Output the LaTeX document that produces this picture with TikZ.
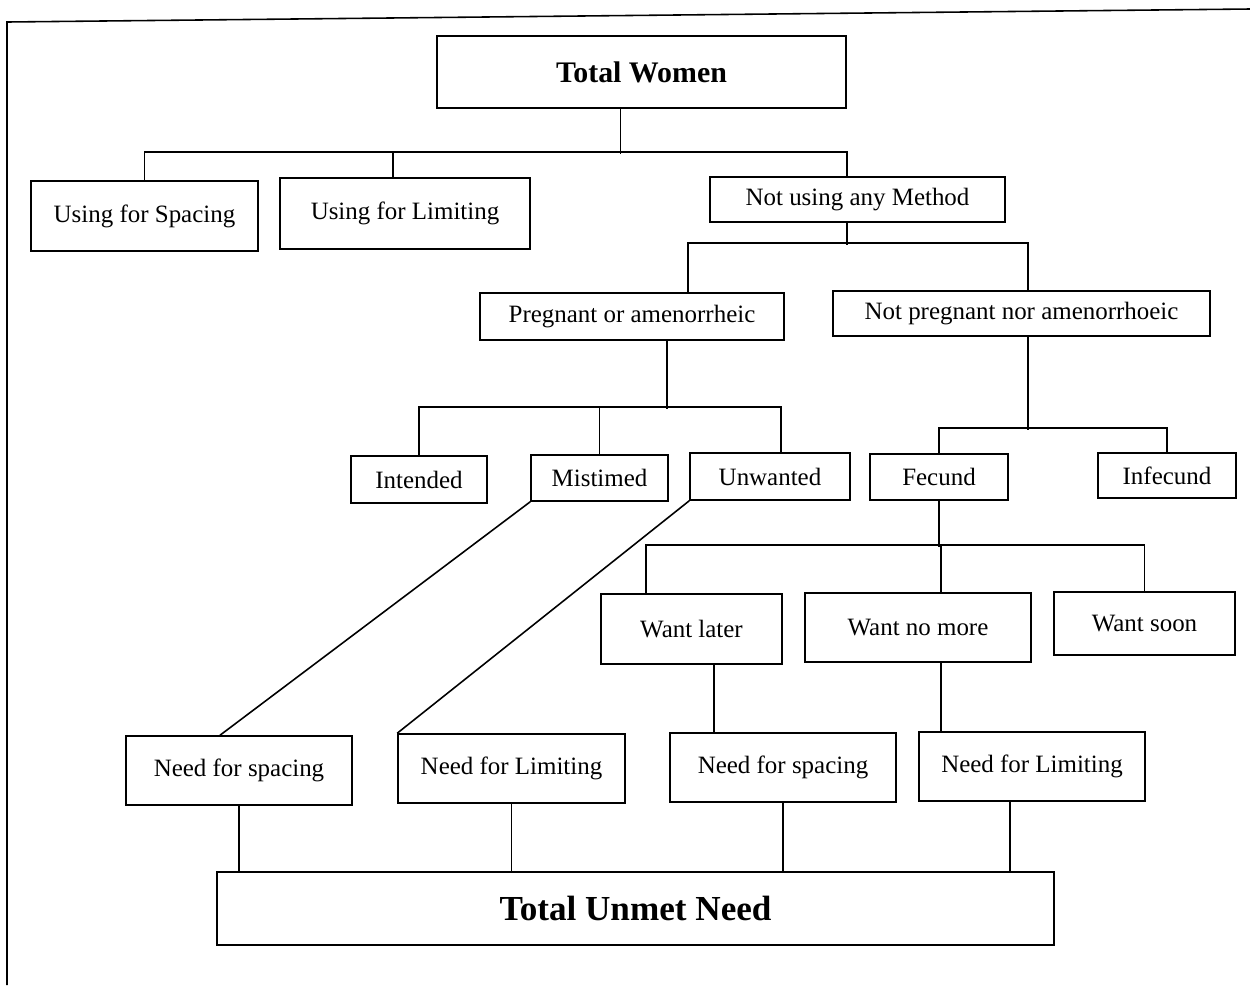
\documentclass[tikz,border=0pt]{standalone}
\usepackage{fontspec}
\setmainfont{Liberation Serif}
\usetikzlibrary{positioning,calc}
\tikzstyle{box} = [draw, rectangle, inner sep=0pt, line width=0.9pt, font=\fontsize{14.2}{16}\selectfont]
\tikzstyle{line} = [draw, line width=0.9pt]

\begin{document}
\begin{tikzpicture}[x=0.02cm,y=-0.02cm]
		\useasboundingbox (0,0) rectangle (1250,985);
		\draw[line] (7,985) -- (7,22) -- (1250,9); % frame left and top
		% boxes
		\node (tw) [box, minimum width=8.18cm, minimum height=1.44cm, font=\fontsize{17}{20}\selectfont\bfseries] at (641.5,72) {Total Women};
		\node (usp) [box, minimum width=4.54cm, minimum height=1.40cm] at (144.5,216) {Using for Spacing};
		\node (ulm) [box, minimum width=5.00cm, minimum height=1.42cm] at (405,213.5) {Using for Limiting};
		\node (nu) [box, minimum width=5.90cm, minimum height=0.90cm] at (857.5,199.5) {Not using any Method};
		\node (preg) [box, minimum width=6.08cm, minimum height=0.94cm] at (632,316.5) {Pregnant or amenorrheic};
		\node (npreg) [box, minimum width=7.54cm, minimum height=0.90cm] at (1021.5,313.5) {Not pregnant nor amenorrhoeic};
		\node (int) [box, minimum width=2.72cm, minimum height=0.94cm] at (419,479.5) {Intended};
		\node (mis) [box, minimum width=2.74cm, minimum height=0.92cm] at (599.5,478) {Mistimed};
		\node (unw) [box, minimum width=3.20cm, minimum height=0.94cm] at (770,476.5) {Unwanted};
		\node (fec) [box, minimum width=2.76cm, minimum height=0.92cm] at (939,477) {Fecund};
		\node (infec) [box, minimum width=2.76cm, minimum height=0.90cm] at (1167,475.5) {Infecund};
		\node (wl) [box, minimum width=3.62cm, minimum height=1.40cm] at (691.5,629) {Want later};
		\node (wnm) [box, minimum width=4.52cm, minimum height=1.38cm] at (918,627.5) {Want no more};
		\node (ws) [box, minimum width=3.62cm, minimum height=1.26cm] at (1144.5,623.5) {Want soon};
		\node (ns1) [box, minimum width=4.52cm, minimum height=1.38cm] at (239,770.5) {Need for spacing};
		\node (nl1) [box, minimum width=4.54cm, minimum height=1.38cm] at (511.5,768.5) {Need for Limiting};
		\node (ns2) [box, minimum width=4.52cm, minimum height=1.38cm] at (783,767.5) {Need for spacing};
		\node (nl2) [box, minimum width=4.52cm, minimum height=1.38cm] at (1032,766.5) {Need for Limiting};
		\node (tun) [box, minimum width=16.74cm, minimum height=1.46cm, font=\fontsize{20}{24}\selectfont\bfseries] at (635.5,908.5) {Total Unmet Need};
		% total women to methods
		\draw[line] ($(tw.south)+(-21,0)$) -- ++(0,45);
		\draw[line] (usp.north) |- ($(nu.north)+(-10.5,-24)$) -- ($(nu.north)+(-10.5,0)$);
		\draw[line] ($(ulm.north)+(-12,0)$) -- ++(0,-25);
		% not using to pregnant / not pregnant
		\draw[line] ($(nu.south)+(-10.5,0)$) -- ++(0,22);
		\draw[line] ($(preg.north)+(56,0)$) |- ($(npreg.north)+(6.5,-47)$) -- ($(npreg.north)+(6.5,0)$);
		% pregnant to intended, mistimed, unwanted
		\draw[line] ($(preg.south)+(35,0)$) -- ++(0,68);
		\draw[line] (int.north) |- ($(unw.north)+(11,-45)$) -- ($(unw.north)+(11,0)$);
		\draw[line] (mis.north) -- ++(0,-47);
		% not pregnant to fecund, infecund
		\draw[line] ($(npreg.south)+(6.5,0)$) -- ++(0,93);
		\draw[line] (fec.north) |- ($(infec.north)+(0,-24)$) -- (infec.north);
		% fecund to wants
		\draw[line] (fec.south) -- ++(0,46);
		\draw[line] ($(wl.north)+(-45.5,0)$) |- ($(ws.north)+(0,-46)$) -- (ws.north);
		\draw[line] ($(wnm.north)+(23,0)$) -- ++(0,-47);
		% wants to needs
		\draw[line] ($(wl.south)+(22.5,0)$) -- ($(ns2.north)+(-69,0)$);
		\draw[line] ($(wnm.south)+(23,0)$) -- ($(nl2.north)+(-91,0)$);
		% mistimed, unwanted to needs
		\draw[line] (mis.south west) -- ($(ns1.north)+(-19,0)$);
		\draw[line] (unw.south west) -- (nl1.north west);
		% needs to total unmet need
		\draw[line] (ns1.south) -- (ns1.south |- tun.north);
		\draw[line] (nl1.south) -- (nl1.south |- tun.north);
		\draw[line] (ns2.south) -- (ns2.south |- tun.north);
		\draw[line] ($(nl2.south)+(-22,0)$) -- ++(0,71);
\end{tikzpicture}
\end{document}
